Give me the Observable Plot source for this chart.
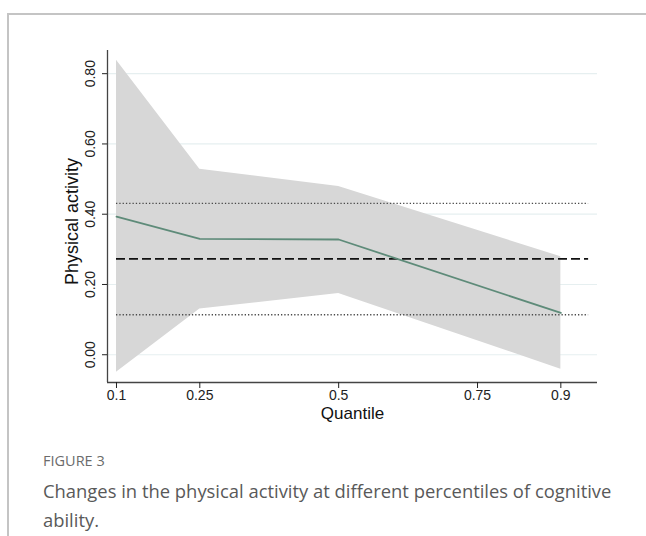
<!DOCTYPE html>
<html>
<head>
<meta charset="utf-8">
<script src="https://cdn.jsdelivr.net/npm/d3@7"></script>
<script src="https://cdn.jsdelivr.net/npm/@observablehq/plot@0.6"></script>
<style>
  html, body { margin: 0; padding: 0; background: #fff; }
  body { width: 646px; height: 536px; position: relative; overflow: hidden; font-family: "Liberation Sans", Arial, sans-serif; }
  #frame { position: absolute; left: 7px; top: 13px; width: 700px; height: 600px; border-left: 2px solid #c4c4c4; border-top: 2px solid #c4c4c4; }
  #chart { position: absolute; left: 0; top: 0; }
  #fig { position: absolute; left: 43px; top: 451px; font-family: "Open Sans", "Noto Sans", sans-serif; font-size: 14.5px; color: #6b6b6b; }
  #cap { position: absolute; left: 43px; top: 476px; width: 570px; font-family: "Open Sans", "Noto Sans", sans-serif; font-size: 18.4px; line-height: 29px; color: #595959; }
</style>
</head>
<body>
<div id="frame"></div>
<div id="chart"></div>
<div id="fig">FIGURE 3</div>
<div id="cap">Changes in the physical activity at different percentiles of cognitive ability.</div>
<script>
const quantiles = [0.1, 0.25, 0.5, 0.9];
const coef = [0.393, 0.330, 0.328, 0.119];
const ciLower = [-0.050, 0.130, 0.174, -0.041];
const ciUpper = [0.838, 0.528, 0.479, 0.279];
const olsCoef = 0.273;
const olsLower = 0.114;
const olsUpper = 0.431;
const olsSpan = [0.1, 0.95];
const xTicks = [0.1, 0.25, 0.5, 0.75, 0.9];
const yTicks = [0, 0.2, 0.4, 0.6, 0.8];

const rows = quantiles.map((q, i) => ({q, coef: coef[i], lo: ciLower[i], hi: ciUpper[i]}));
const xDom = [0.0838, 0.966];
const yDom = [-0.079, 0.866];

const chart = Plot.plot({
  width: 646,
  height: 430,
  marginLeft: 107,
  marginRight: 49,
  marginTop: 50,
  marginBottom: 48,
  style: {fontFamily: "'Liberation Sans', Arial, sans-serif", fontSize: "14px", background: "transparent"},
  x: {domain: xDom},
  y: {domain: yDom},
  marks: [
    Plot.ruleY(yTicks, {x1: xDom[0], x2: xDom[1], stroke: "#e6eff0", strokeWidth: 1.2}),
    Plot.areaY(rows, {x: "q", y1: "lo", y2: "hi", fill: "#d7d7d7"}),
    Plot.ruleY([olsUpper], {x1: olsSpan[0], x2: olsSpan[1], stroke: "#4a4a4a", strokeWidth: 1.4, strokeDasharray: "1.3,2"}),
    Plot.ruleY([olsLower], {x1: olsSpan[0], x2: olsSpan[1], stroke: "#4a4a4a", strokeWidth: 1.4, strokeDasharray: "1.3,2"}),
    Plot.ruleY([olsCoef], {x1: olsSpan[0], x2: olsSpan[1], stroke: "#111", strokeWidth: 1.6, strokeDasharray: "9,4"}),
    Plot.line(rows, {x: "q", y: "coef", stroke: "#5e8b79", strokeWidth: 1.8}),
    Plot.ruleX([xDom[0]], {y1: yDom[0], y2: yDom[1], stroke: "#444", strokeWidth: 1.3}),
    Plot.ruleY([yDom[0]], {x1: xDom[0], x2: xDom[1], stroke: "#444", strokeWidth: 1.3}),
    Plot.axisX({ticks: xTicks, tickFormat: d => String(d), tickSize: 6, tickPadding: 2, fontSize: 14, color: "#222", label: null}),
    Plot.axisY({ticks: yTicks, tickFormat: d3.format(".2f"), tickSize: 5, tickRotate: -90, tickPadding: 8, fontSize: 14, color: "#222", label: null}),
    Plot.text(["Quantile"], {frameAnchor: "bottom", dy: 24, lineAnchor: "top", fontSize: 17, fill: "#111", textAnchor: "middle"}),
    Plot.text(["Physical activity"], {frameAnchor: "left", dx: -35, dy: 5, rotate: -90, fontSize: 18, fill: "#111", textAnchor: "middle"})
  ]
});
document.getElementById("chart").appendChild(chart);
</script>
</body>
</html>
